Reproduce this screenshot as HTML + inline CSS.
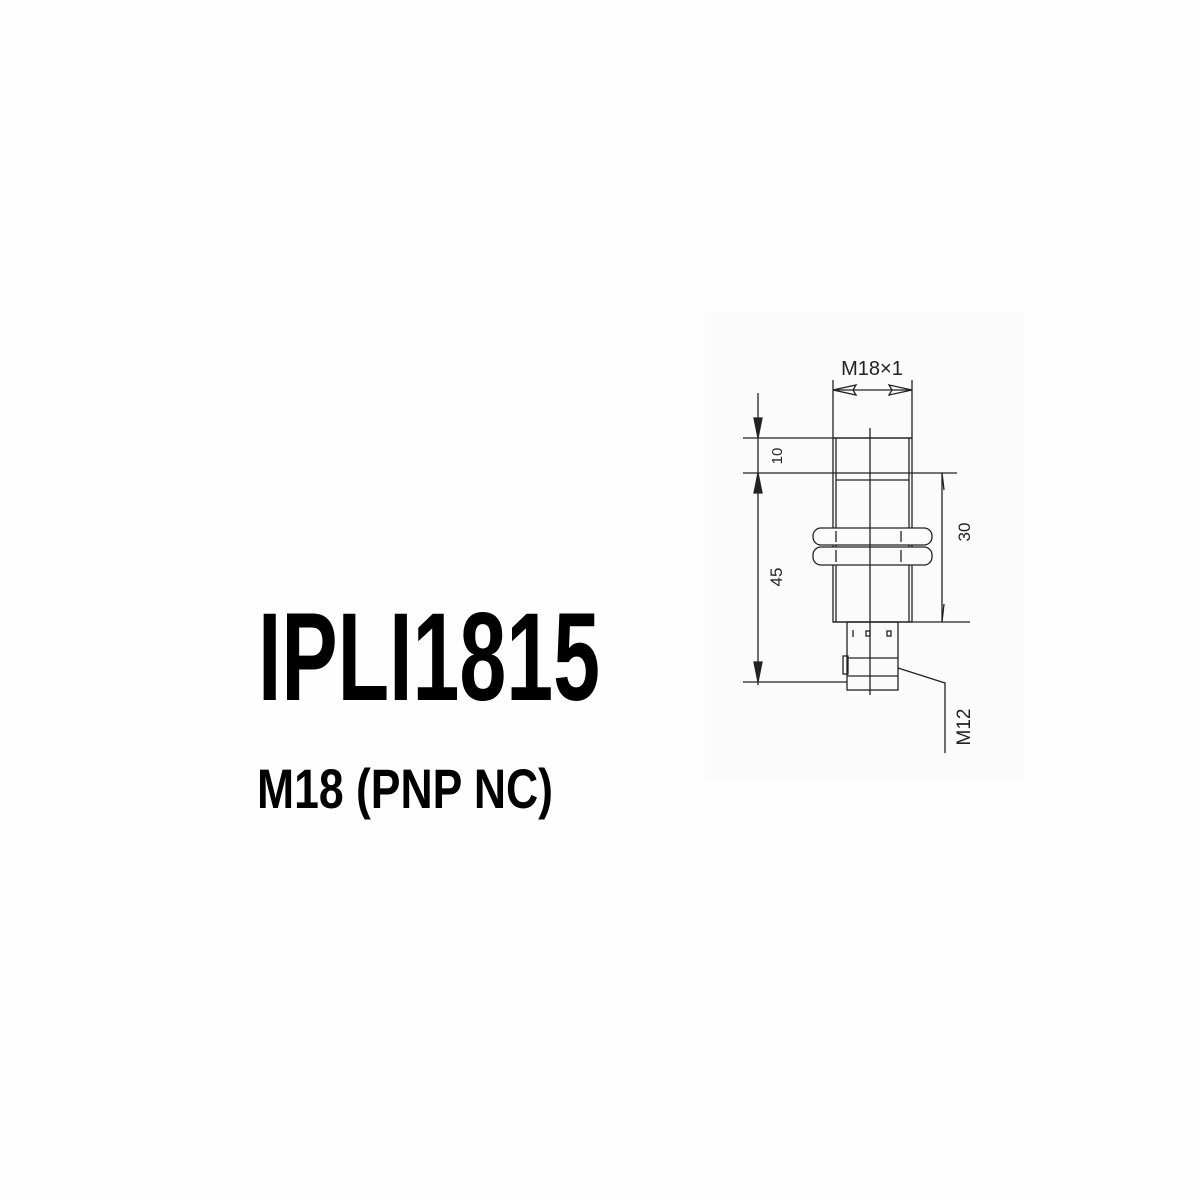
<!DOCTYPE html>
<html><head><style>
html,body{margin:0;padding:0;background:#fefefe;}
svg{display:block;}
</style></head><body>
<svg width="1200" height="1200" viewBox="0 0 1200 1200" xmlns="http://www.w3.org/2000/svg">
<rect width="1200" height="1200" fill="#fefefe"/>
<rect x="705" y="312" width="320" height="468" fill="#fbfbfb"/>
<text x="258" y="700" font-family="Liberation Sans, sans-serif" font-weight="bold" font-size="125" textLength="342" lengthAdjust="spacingAndGlyphs" fill="#000">IPLI1815</text>
<text x="257" y="808" font-family="Liberation Sans, sans-serif" font-weight="bold" font-size="56" textLength="296" lengthAdjust="spacingAndGlyphs" fill="#000">M18 (PNP NC)</text>
<g stroke="#222" stroke-width="1.3" fill="none">
<line x1="833" y1="380" x2="833" y2="438"/>
<line x1="912" y1="380" x2="912" y2="438"/>
<line x1="833" y1="390" x2="912" y2="390"/>
<path d="M833 390 L856 385 L853 390 L856 395 Z"/>
<path d="M912 390 L889 385 L892 390 L889 395 Z"/>
<line x1="743" y1="438" x2="912" y2="438"/>
<line x1="743" y1="473" x2="957" y2="473"/>
<line x1="833" y1="622" x2="970" y2="622"/>
<line x1="743" y1="682" x2="847" y2="682"/>
<line x1="758" y1="393" x2="758" y2="685"/>
<path d="M758 438 L754 418 L762 418 Z" fill="#222"/>
<path d="M758 473 L754 493 L762 493 Z" fill="#222"/>
<path d="M758 682 L754 662 L762 662 Z" fill="#222"/>
<line x1="942" y1="473" x2="942" y2="622"/>
<path d="M942 473 L944 490" />
<path d="M942 622 L944 604" />
<rect x="833" y="438" width="79" height="184"/>
<line x1="836" y1="438" x2="836" y2="622"/>
<line x1="909" y1="438" x2="909" y2="622"/>
<line x1="836" y1="480" x2="909" y2="480"/>
<rect x="813" y="528" width="119" height="17" rx="8" fill="#fbfbfb"/>
<rect x="813" y="547" width="119" height="18" rx="8" fill="#fbfbfb"/>
<line x1="836" y1="531" x2="836" y2="542"/>
<line x1="901" y1="531" x2="901" y2="542"/>
<line x1="836" y1="550" x2="836" y2="562"/>
<line x1="901" y1="550" x2="901" y2="562"/>
<line x1="870" y1="428" x2="870" y2="695"/>
<rect x="847" y="622" width="51" height="68"/>
<line x1="847" y1="658" x2="898" y2="658"/>
<line x1="847" y1="676" x2="898" y2="676"/>
<rect x="843" y="656" width="5" height="18"/>
<rect x="866" y="631" width="4" height="5"/>
<rect x="887" y="631" width="4" height="5"/>
<line x1="853" y1="630" x2="853" y2="637"/>
<polyline points="898,668 945,683 945,753"/>
</g>
<g font-family="Liberation Sans, DejaVu Sans, sans-serif" fill="#222">
<text x="872" y="375" font-size="20" text-anchor="middle">M18×1</text>
<text transform="translate(782,456) rotate(-90)" font-size="15" text-anchor="middle">10</text>
<text transform="translate(782,577) rotate(-90)" font-size="17" text-anchor="middle">45</text>
<text transform="translate(970,532) rotate(-90)" font-size="17" text-anchor="middle">30</text>
<text transform="translate(970,727) rotate(-90)" font-size="19" text-anchor="middle">M12</text>
</g>
</svg>
</body></html>
